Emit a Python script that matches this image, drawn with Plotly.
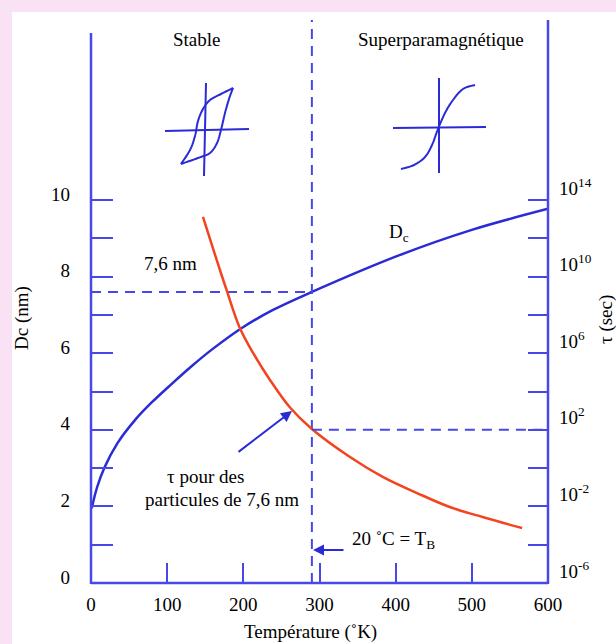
import plotly.graph_objects as go

# ---------------- data ----------------
T_dc = [1, 8, 18, 35, 58, 80, 106, 132, 159, 198, 239, 290, 405, 500, 600]
Dc_nm = [1.95, 2.5, 3.03, 3.66, 4.26, 4.72, 5.2, 5.66, 6.1, 6.66, 7.13, 7.6, 8.56, 9.22, 9.77]

T_tau = [147, 165, 178, 195, 213, 235, 261, 290, 340, 383, 428, 471, 514, 566]
tau_s = [1.3e13, 7.4e10, 2.0e9, 2.3e7, 1.0e6, 4.0e4, 1.5e3, 1.1e2, 3.8, 0.35, 0.05, 9.3e-3, 2.8e-3, 7.4e-4]

T_B = 290          # blocking temperature (20 °C)
D_ref = 7.6        # particle size, nm
tau_ref = 1e2      # relaxation time at T_B

x_ticks = [0, 100, 200, 300, 400, 500, 600]
x_ticktext = ["0", "100", "200", "300", "400", "500", "600"]
y_ticks = list(range(0, 11))
y_ticktext = ["0", "", "2", "", "4", "", "6", "", "8", "", "10"]
y2_ticks = [1e-6, 1e-4, 1e-2, 1e0, 1e2, 1e4, 1e6, 1e8, 1e10, 1e12, 1e14]
y2_ticktext = ["10<sup>-6</sup>", "", "10<sup>-2</sup>", "", "10<sup>2</sup>", "",
               "10<sup>6</sup>", "", "10<sup>10</sup>", "", "10<sup>14</sup>"]

# ---------------- styling ----------------
W, H = 616, 644
L, R, TOP, BOT = 91, 548, 20, 583
AX = "#4848e6"
BLUE = "#2b2bd6"
RED = "#f2451f"
PINK = "#f9e2f3"
FONT = "Liberation Serif"
Y_MAX = 14.7


def px(x):
    return (x - L) / (R - L)


def py(y):
    return (BOT - y) / (BOT - TOP)


def smooth(pts, n=8):
    """Catmull-Rom smoothing of a hand-drawn sketch outline."""
    out = []
    m = len(pts)
    for i in range(m - 1):
        p0 = pts[max(i - 1, 0)]
        p1 = pts[i]
        p2 = pts[i + 1]
        p3 = pts[min(i + 2, m - 1)]
        for k in range(n):
            t = k / n
            t2, t3 = t * t, t * t * t
            x = 0.5 * ((2 * p1[0]) + (-p0[0] + p2[0]) * t +
                       (2 * p0[0] - 5 * p1[0] + 4 * p2[0] - p3[0]) * t2 +
                       (-p0[0] + 3 * p1[0] - 3 * p2[0] + p3[0]) * t3)
            y = 0.5 * ((2 * p1[1]) + (-p0[1] + p2[1]) * t +
                       (2 * p0[1] - 5 * p1[1] + 4 * p2[1] - p3[1]) * t2 +
                       (-p0[1] + 3 * p1[1] - 3 * p2[1] + p3[1]) * t3)
            out.append((x, y))
    out.append(pts[-1])
    return out


fig = go.Figure()
fig.add_trace(go.Scatter(x=T_dc, y=Dc_nm, mode="lines", yaxis="y",
                         line=dict(color=BLUE, width=2.5, shape="spline", smoothing=1.0),
                         showlegend=False, hoverinfo="skip"))
fig.add_trace(go.Scatter(x=T_tau, y=tau_s, mode="lines", yaxis="y2",
                         line=dict(color=RED, width=2.5, shape="spline"),
                         showlegend=False, hoverinfo="skip"))
# dashed guides
fig.add_trace(go.Scatter(x=[0, T_B], y=[D_ref, D_ref], mode="lines", yaxis="y",
                         line=dict(color=AX, width=2, dash="10px,7px"),
                         showlegend=False, hoverinfo="skip"))
fig.add_trace(go.Scatter(x=[T_B, 600], y=[tau_ref, tau_ref], mode="lines", yaxis="y2",
                         line=dict(color=AX, width=2, dash="10px,7px"),
                         showlegend=False, hoverinfo="skip"))
fig.add_trace(go.Scatter(x=[T_B, T_B], y=[0, Y_MAX], mode="lines", yaxis="y",
                         line=dict(color=AX, width=2, dash="10px,7px"),
                         showlegend=False, hoverinfo="skip"))

shapes = []
# white sheet over pink page
shapes.append(dict(type="rect", xref="paper", yref="paper", layer="below",
                   x0=px(12), x1=px(W + 5), y0=py(H + 5), y1=py(12),
                   fillcolor="white", line=dict(width=0)))
# axis lines
shapes.append(dict(type="line", xref="paper", yref="paper", x0=0, x1=0,
                   y0=py(BOT + 1), y1=py(33), line=dict(color=AX, width=2.5)))
shapes.append(dict(type="line", xref="paper", yref="paper", x0=1, x1=1,
                   y0=py(BOT + 1), y1=py(20), line=dict(color=AX, width=2.5)))
shapes.append(dict(type="line", xref="paper", yref="paper", x0=0, x1=1,
                   y0=0, y1=0, line=dict(color=AX, width=2.5)))


def poly(pts):
    s = "M %f,%f" % (px(pts[0][0]), py(pts[0][1]))
    for x, y in pts[1:]:
        s += " L %f,%f" % (px(x), py(y))
    return s


# hysteresis sketch (stable)
icon1_h = [(165, 131), (249, 129)]
icon1_v = [(206, 83), (204, 176)]
icon1_up = [(181, 164), (190, 150), (195, 136), (198, 121), (203, 109), (210, 100),
            (221, 94), (233, 88)]
icon1_down = [(233, 88), (229, 99), (225, 113), (221, 130), (217, 143), (210, 153),
              (198, 158), (181, 164)]
# superparamagnetic sketch
icon2_h = [(393, 128), (486, 127)]
icon2_v = [(439, 78), (439, 173)]
icon2_s = [(401, 169), (414, 165), (425, 157), (432, 145), (438, 129), (445, 113),
           (453, 100), (463, 89), (475, 85)]
for pts in [icon1_h, icon1_v, icon2_h, icon2_v]:
    shapes.append(dict(type="path", xref="paper", yref="paper", path=poly(pts),
                       line=dict(color=BLUE, width=2)))
for pts in [icon1_up, icon1_down, icon2_s]:
    shapes.append(dict(type="path", xref="paper", yref="paper", path=poly(smooth(pts)),
                       line=dict(color=BLUE, width=2)))

tf = dict(family=FONT, size=19, color="black")
ann = []


def text(x, y, s, angle=0, size=19, xanchor="center"):
    ann.append(dict(x=px(x), y=py(y), xref="paper", yref="paper", text=s,
                    showarrow=False, xanchor=xanchor, yanchor="middle",
                    textangle=angle, font=dict(family=FONT, size=size, color="black")))


text(197, 39, "Stable")
text(441, 39, "Superparamagnétique")
text(170, 263, "7,6 nm")
text(399, 233, "D<sub>c</sub>")
text(205, 476, "τ pour des")
text(222, 499, "particules de 7,6 nm")
text(350, 540, "20 ˚C = T<sub>B</sub>", xanchor="left")
text(22, 318, "Dc (nm)", angle=-90)
text(606, 320, "τ (sec)", angle=-90)
text(310, 632, "Température (˚K)")

# arrows
ann.append(dict(x=px(292), y=py(411), xref="paper", yref="paper", text="",
                showarrow=True, arrowhead=2, arrowsize=1.1, arrowwidth=2,
                arrowcolor=BLUE, ax=-55, ay=42))
ann.append(dict(x=px(313), y=py(550), xref="paper", yref="paper", text="",
                showarrow=True, arrowhead=2, arrowsize=1.1, arrowwidth=2,
                arrowcolor=BLUE, ax=32, ay=0))

fig.update_layout(
    width=W, height=H,
    margin=dict(l=L, r=W - R, t=TOP, b=H - BOT, pad=0),
    paper_bgcolor=PINK,
    plot_bgcolor="rgba(0,0,0,0)",
    showlegend=False,
    shapes=shapes,
    annotations=ann,
    xaxis=dict(range=[0, 600], tickvals=x_ticks, ticktext=x_ticktext,
               ticks="inside", ticklen=20, tickwidth=2, tickcolor=AX,
               showline=False, showgrid=False, zeroline=False,
               tickfont=tf, ticklabelstandoff=8),
    yaxis=dict(range=[0, Y_MAX], tickvals=y_ticks, ticktext=y_ticktext,
               ticks="inside", ticklen=22, tickwidth=2, tickcolor=AX,
               showline=False, showgrid=False, zeroline=False,
               tickfont=tf, ticklabelstandoff=20, ticklabelshift=-6),
    yaxis2=dict(type="log", range=[-6, -6 + 2 * Y_MAX], overlaying="y", side="right",
                tickvals=y2_ticks, ticktext=y2_ticktext,
                ticks="inside", ticklen=20, tickwidth=2, tickcolor=AX,
                showline=False, showgrid=False, zeroline=False,
                tickfont=tf, ticklabelstandoff=10, ticklabelshift=-12),
)

fig.write_html("out.html",
               config={"displayModeBar": False},
               post_script="document.body.style.margin='0px';"
                           "document.body.style.background='%s';" % PINK)
